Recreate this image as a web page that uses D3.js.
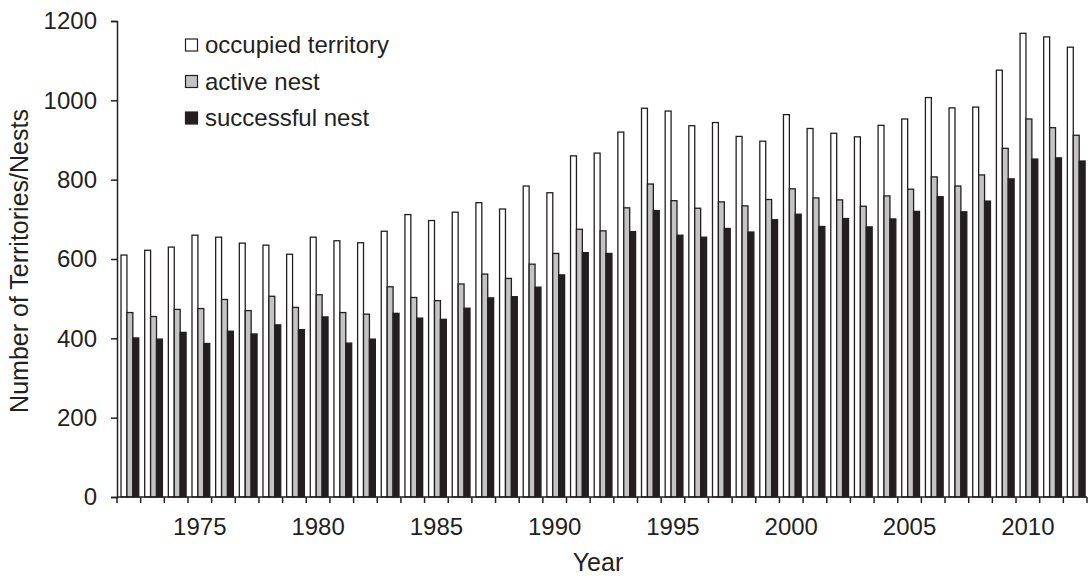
<!DOCTYPE html>
<html>
<head>
<meta charset="utf-8">
<script src="https://cdn.jsdelivr.net/npm/d3@7"></script>
<style>
  body { margin: 0; background: #fff; }
  text { font-family: "Liberation Sans", Arial, sans-serif; fill: #231f20; }
</style>
</head>
<body>
<svg id="chart" width="1092" height="576"></svg>
<script>
const years = d3.range(1972, 2013);
const occupied = [610, 622, 630, 660, 655, 640, 635, 612, 655, 646, 641, 670, 712, 697, 718, 742, 726, 784, 767, 860, 867, 920,
  980, 973, 936, 944, 909, 897, 964, 929, 917, 908, 937, 953, 1007, 981, 983, 1076, 1169, 1160, 1134];
const active = [465, 455, 473, 475, 498, 470, 506, 478, 510, 465, 461, 530, 503, 495, 537, 562, 551, 587, 614, 675, 671, 729,
  789, 747, 728, 744, 734, 750, 777, 754, 749, 733, 759, 776, 807, 784, 812, 879, 953, 931, 912];
const successful = [401, 398, 415, 387, 418, 411, 434, 422, 454, 388, 398, 463, 451, 448, 476, 502, 505, 529, 560, 616, 614, 669,
  722, 660, 655, 677, 668, 699, 713, 682, 702, 681, 701, 720, 757, 719, 746, 802, 852, 855, 847];
const seriesNames = ["occupied territory", "active nest", "successful nest"];
const yTicks = [0, 200, 400, 600, 800, 1000, 1200];
const yearLabels = [1975, 1980, 1985, 1990, 1995, 2000, 2005, 2010];

const ink = "#231f20";
const fills = ["#ffffff", "#c4c4c4", ink];
const seriesData = [occupied, active, successful];
const fontSize = 24;

const svg = d3.select("#chart");
const margin = {top: 21, right: 5, bottom: 79, left: 117};
const height = 576;
const innerWidth = 970;
const innerHeight = height - margin.top - margin.bottom;

const x = d3.scaleBand().domain(years).range([0, innerWidth]).padding(0);
const x1 = d3.scaleBand().domain(d3.range(3))
  .range([x.bandwidth() * 0.17, x.bandwidth() * 0.92]).padding(0);
const y = d3.scaleLinear().domain([0, 1200]).range([innerHeight, 0]);

const g = svg.append("g").attr("transform", `translate(${margin.left},${margin.top})`);

// bars
seriesData.forEach((vals, si) => {
  g.append("g").selectAll("rect")
    .data(years.map((yr, i) => ({year: yr, value: vals[i]})))
    .join("rect")
    .attr("x", d => x(d.year) + x1(si))
    .attr("y", d => y(d.value))
    .attr("width", x1.bandwidth())
    .attr("height", d => y(0) - y(d.value))
    .attr("fill", fills[si])
    .attr("stroke", ink)
    .attr("stroke-width", 1.3);
});

// y axis
const yAxis = g.append("g")
  .call(d3.axisLeft(y).tickValues(yTicks).tickFormat(d3.format("d")).tickSize(6).tickPadding(14));
yAxis.select(".domain").attr("stroke", ink).attr("stroke-width", 1.5);
yAxis.selectAll(".tick line").attr("stroke", ink).attr("stroke-width", 1.5);
yAxis.selectAll(".tick text").attr("font-size", fontSize).attr("fill", ink)
  .style("font-family", "'Liberation Sans', Arial, sans-serif");

// x axis: ticks at band boundaries, labels every 5 years
const xAxisG = g.append("g").attr("transform", `translate(0,${innerHeight})`);
xAxisG.append("line")
  .attr("x1", 0).attr("x2", innerWidth)
  .attr("stroke", ink).attr("stroke-width", 1.5);
xAxisG.selectAll("line.tk")
  .data(years.concat([2013]))
  .join("line")
  .attr("class", "tk")
  .attr("x1", d => d === 2013 ? innerWidth : x(d))
  .attr("x2", d => d === 2013 ? innerWidth : x(d))
  .attr("y1", 0).attr("y2", 6)
  .attr("stroke", ink).attr("stroke-width", 1.5);
xAxisG.selectAll("text")
  .data(yearLabels)
  .join("text")
  .attr("x", d => x(d) + x.bandwidth() / 2)
  .attr("y", 38)
  .attr("text-anchor", "middle")
  .attr("font-size", fontSize)
  .text(d => d);

// axis titles
svg.append("text")
  .attr("x", margin.left + innerWidth / 2 - 4)
  .attr("y", 571)
  .attr("text-anchor", "middle")
  .attr("font-size", 25)
  .text("Year");

svg.append("text")
  .attr("transform", "rotate(-90)")
  .attr("x", -(margin.top + innerHeight / 2) - 2)
  .attr("y", 28)
  .attr("text-anchor", "middle")
  .attr("font-size", 25)
  .text("Number of Territories/Nests");

// legend
const legend = svg.append("g").attr("transform", "translate(185,45)");
seriesNames.forEach((name, i) => {
  const row = legend.append("g").attr("transform", `translate(0,${i * 36.5})`);
  row.append("rect")
    .attr("x", 0.5).attr("y", -6)
    .attr("width", 12).attr("height", 12)
    .attr("fill", fills[i])
    .attr("stroke", ink).attr("stroke-width", 1.2);
  row.append("text")
    .attr("x", 20).attr("y", 0)
    .attr("dy", "0.35em")
    .attr("font-size", fontSize)
    .text(name);
});
</script>
</body>
</html>
